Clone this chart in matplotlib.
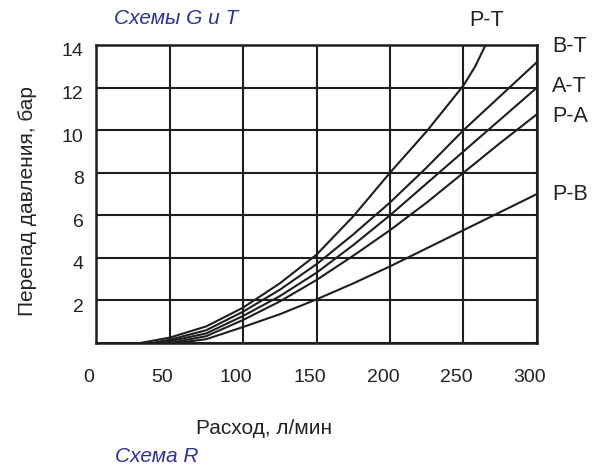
import matplotlib
matplotlib.use("Agg")
import matplotlib.pyplot as plt
from matplotlib.transforms import ScaledTranslation

# ---- data ----
pt_x = [30, 50, 75, 100, 125, 150, 175, 200, 225, 250, 258, 265]
pt_y = [0, 0.25, 0.78, 1.66, 2.8, 4.15, 5.95, 8.0, 9.95, 12.1, 13.0, 14.0]

bt_x = [38, 50, 75, 100, 125, 150, 175, 200, 225, 250, 275, 300]
bt_y = [0, 0.15, 0.6, 1.47, 2.5, 3.7, 5.1, 6.6, 8.25, 10.0, 11.6, 13.2]

at_x = [45, 50, 75, 100, 125, 150, 175, 200, 225, 250, 275, 300]
at_y = [0, 0.08, 0.45, 1.27, 2.2, 3.3, 4.6, 6.0, 7.5, 9.0, 10.5, 12.0]

pa_x = [50, 75, 100, 125, 150, 175, 200, 225, 250, 275, 300]
pa_y = [0, 0.32, 1.08, 1.95, 2.96, 4.1, 5.3, 6.6, 8.0, 9.4, 10.75]

pb_x = [55, 75, 100, 125, 150, 175, 200, 225, 250, 275, 300]
pb_y = [0, 0.18, 0.75, 1.35, 2.05, 2.8, 3.6, 4.45, 5.3, 6.15, 7.0]

x_ticks = [0, 50, 100, 150, 200, 250, 300]
y_ticks = [2, 4, 6, 8, 10, 12, 14]
y_grid = [0, 2, 4, 6, 8, 10, 12, 14]

series = [("P-T", pt_x, pt_y), ("B-T", bt_x, bt_y), ("A-T", at_x, at_y),
          ("P-A", pa_x, pa_y), ("P-B", pb_x, pb_y)]

REG = ['Liberation Sans', 'DejaVu Sans']
BLUE = '#2e3192'
DARK = '#1e1e1e'

W, H = 602, 468
fig = plt.figure(figsize=(W / 100, H / 100), dpi=100)
ax = fig.add_axes([96 / W, 1 - 343 / H, 441 / W, 298 / H])

lw = 1.5
for xv in x_ticks:
    ax.axvline(xv, color=DARK, lw=lw, zorder=1)
for yv in y_grid:
    ax.axhline(yv, color=DARK, lw=lw, zorder=1)

for name, xs, ys in series:
    ax.plot(xs, ys, color=DARK, lw=1.5, zorder=2, solid_joinstyle='round')

ax.set_xlim(0, 300)
ax.set_ylim(0, 14)
for s in ax.spines.values():
    s.set_linewidth(1.8)
    s.set_color(DARK)

ax.set_xticks(x_ticks)
ax.set_xticklabels([str(v) for v in x_ticks], family=REG, fontsize=14, color='#222222')
ax.set_yticks(y_ticks)
ax.set_yticklabels([str(v) for v in y_ticks], family=REG, fontsize=14, color='#222222')
ax.tick_params(axis='both', length=0)
ax.tick_params(axis='x', pad=19)
ax.tick_params(axis='y', pad=9)

for lab in ax.get_xticklabels():
    lab.set_transform(lab.get_transform() + ScaledTranslation(-7 / 100, 0, fig.dpi_scale_trans))
for lab in ax.get_yticklabels():
    lab.set_transform(lab.get_transform() + ScaledTranslation(0, -5 / 100, fig.dpi_scale_trans))

def ftext(px, py, s, **kw):
    fig.text(px / W, 1 - py / H, s, **kw)

# series labels
ftext(487, 21, "P-T", family=REG, fontsize=15.5, ha='center', va='center', color='#222222')
ftext(552, 47, "B-T", family=REG, fontsize=15.5, ha='left', va='center', color='#222222')
ftext(552, 86, "A-T", family=REG, fontsize=15.5, ha='left', va='center', color='#222222')
ftext(552, 117, "P-A", family=REG, fontsize=15.5, ha='left', va='center', color='#222222')
ftext(552, 194, "P-B", family=REG, fontsize=15.5, ha='left', va='center', color='#222222')

# axis labels and captions
ftext(28, 201, "Перепад давления, бар", family=REG, fontsize=15, rotation=90,
      ha='center', va='center', color='#222222')
ftext(264, 428, "Расход, л/мин", family=REG, fontsize=15, ha='center', va='center', color='#222222')
ftext(176, 18, "Схемы G и T", family=REG, fontsize=15, style='italic', ha='center', va='center', color=BLUE)
ftext(157, 457, "Схема R", family=REG, fontsize=15, style='italic', ha='center', va='center', color=BLUE)

fig.savefig("out.png", dpi=100)
